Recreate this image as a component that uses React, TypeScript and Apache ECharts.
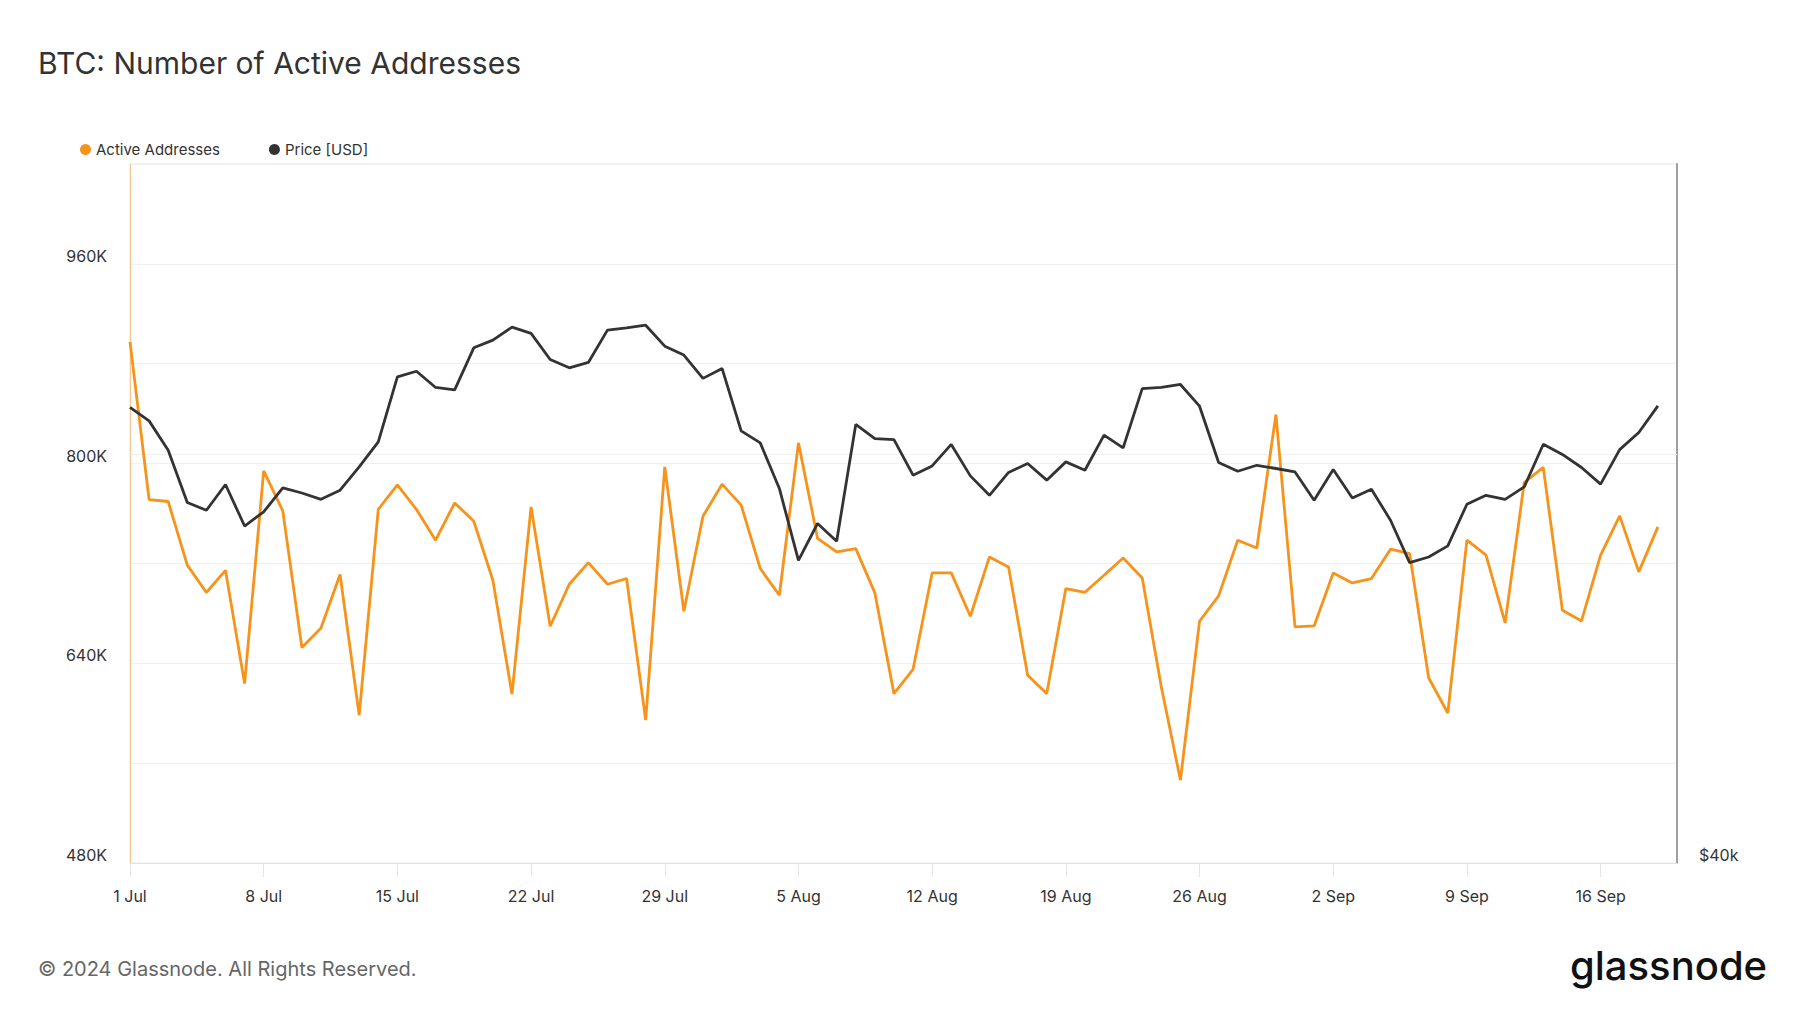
import React, { useEffect, useRef } from "react";
import * as echarts from "echarts";

const dates: string[] = [
  "1 Jul", "2 Jul", "3 Jul", "4 Jul", "5 Jul", "6 Jul", "7 Jul", "8 Jul", "9 Jul", "10 Jul",
  "11 Jul", "12 Jul", "13 Jul", "14 Jul", "15 Jul", "16 Jul", "17 Jul", "18 Jul", "19 Jul", "20 Jul",
  "21 Jul", "22 Jul", "23 Jul", "24 Jul", "25 Jul", "26 Jul", "27 Jul", "28 Jul", "29 Jul", "30 Jul",
  "31 Jul", "1 Aug", "2 Aug", "3 Aug", "4 Aug", "5 Aug", "6 Aug", "7 Aug", "8 Aug", "9 Aug",
  "10 Aug", "11 Aug", "12 Aug", "13 Aug", "14 Aug", "15 Aug", "16 Aug", "17 Aug", "18 Aug", "19 Aug",
  "20 Aug", "21 Aug", "22 Aug", "23 Aug", "24 Aug", "25 Aug", "26 Aug", "27 Aug", "28 Aug", "29 Aug",
  "30 Aug", "31 Aug", "1 Sep", "2 Sep", "3 Sep", "4 Sep", "5 Sep", "6 Sep", "7 Sep", "8 Sep",
  "9 Sep", "10 Sep", "11 Sep", "12 Sep", "13 Sep", "14 Sep", "15 Sep", "16 Sep", "17 Sep", "18 Sep",
  "19 Sep", "20 Sep",
];

const activeAddresses: number[] = [
  897500, 771200, 769600, 718600, 696700, 714500, 623700, 794100, 762100, 652600,
  668300, 711100, 598400, 763400, 782900, 763200, 738600, 768500, 753800, 706500,
  615300, 765300, 669700, 703300, 720700, 703300, 707900, 594500, 797400, 681700,
  757800, 783500, 766700, 715900, 694500, 816600, 740000, 729200, 731900, 696400,
  615700, 635200, 712400, 712400, 677700, 725200, 717200, 630400, 615700, 699900,
  696900, 710500, 724400, 708400, 621000, 546400, 673700, 694000, 738600, 732400,
  839300, 669100, 669900, 712400, 704400, 707900, 731400, 727900, 628200, 600200,
  738600, 726600, 672300, 784700, 796900, 682500, 673900, 726600, 758100, 713200,
  749300,
];

const priceUsd: number[] = [
  62850, 62010, 60230, 57190, 56750, 58220, 55870, 56660, 58020, 57730,
  57370, 57890, 59240, 60730, 64780, 65140, 64100, 63950, 66670, 67180,
  68050, 67630, 65900, 65360, 65710, 67850, 68000, 68180, 66780, 66190,
  64680, 65320, 61400, 60670, 57990, 54000, 56010, 55030, 61790, 60930,
  60870, 58760, 59300, 60580, 58720, 57600, 58920, 59440, 58470, 59540,
  59050, 61140, 60370, 64030, 64100, 64290, 62920, 59500, 58990, 59340,
  59150, 58950, 57320, 59090, 57450, 57950, 56190, 53880, 54180, 54780,
  57090, 57600, 57370, 58080, 60590, 59980, 59210, 58240, 60270, 61300,
  62940,
];

const leftTicks = { min: 480000, max: 1040000, step: 80000, labelStep: 160000 };
const rightTicks = { min: 40000, max: 80000, grid: [60000], label: "$40k" };

const TITLE = "BTC: Number of Active Addresses";
const FOOTER = "\u00a9 2024 Glassnode. All Rights Reserved.";
const FONT = "Inter, 'Noto Sans', sans-serif";

export default function App() {
  const ref = useRef<HTMLDivElement>(null);

  useEffect(() => {
    if (!ref.current) return;
    const chart = echarts.init(ref.current, undefined, { renderer: "svg" });
    const option: any = {
      animation: false,
      backgroundColor: "#ffffff",
      textStyle: { fontFamily: FONT },
      title: {
        text: TITLE,
        left: 38,
        top: 48,
        padding: 0,
        textStyle: { fontSize: 30, fontWeight: 400, color: "#333333", fontFamily: FONT },
      },
      legend: {
        left: 80,
        top: 142,
        padding: 0,
        icon: "circle",
        itemWidth: 11,
        itemHeight: 11,
        itemGap: 49,
        textStyle: { fontSize: 15, color: "#333333", fontFamily: FONT },
        data: [
          { name: "Active Addresses", itemStyle: { color: "#f7931a" } },
          { name: "Price [USD]", itemStyle: { color: "#333333" } },
        ],
      },
      grid: {
        left: 130,
        right: 123,
        top: 164,
        bottom: 150,
        show: true,
        borderColor: "#e6e6e6",
        borderWidth: 1,
        containLabel: false,
      },
      xAxis: {
        type: "category",
        boundaryGap: false,
        data: dates,
        axisLine: { show: true, lineStyle: { color: "#e3e3e3", width: 1 } },
        axisTick: {
          show: true,
          interval: (i: number) => i % 7 === 0,
          length: 14,
          lineStyle: { color: "#e6e6e6" },
        },
        axisLabel: {
          interval: (i: number) => i % 7 === 0,
          fontSize: 16,
          color: "#333333",
          margin: 25,
          fontFamily: FONT,
        },
        splitLine: { show: false },
      },
      yAxis: [
        {
          type: "value",
          position: "left",
          min: leftTicks.min,
          max: leftTicks.max,
          interval: leftTicks.step,
          axisLine: { show: true, lineStyle: { color: "rgba(247,147,26,0.45)", width: 1 } },
          axisTick: { show: false },
          axisLabel: {
            fontSize: 16,
            color: "#333333",
            margin: 23,
            verticalAlign: "bottom",
            fontFamily: FONT,
            formatter: (v: number) =>
              (v - leftTicks.min) % leftTicks.labelStep === 0 && v < leftTicks.max
                ? Math.round(v / 1000) + "K"
                : "",
          },
          splitLine: { show: true, lineStyle: { color: "#f0f0f0", width: 1 } },
        },
        {
          type: "log",
          logBase: 10,
          position: "right",
          min: rightTicks.min,
          max: rightTicks.max,
          axisLine: { show: true, lineStyle: { color: "#a0a0a0", width: 2 } },
          axisTick: { show: false },
          axisLabel: {
            fontSize: 16,
            color: "#333333",
            margin: 22,
            verticalAlign: "bottom",
            fontFamily: FONT,
            showMaxLabel: false,
            formatter: (v: number) => (v < rightTicks.min * 1.05 ? rightTicks.label : ""),
          },
          splitLine: { show: false },
        },
      ],
      series: [
        {
          name: "Active Addresses",
          type: "line",
          yAxisIndex: 0,
          data: activeAddresses,
          showSymbol: false,
          symbol: "none",
          lineStyle: { color: "#f7931a", width: 2.8 },
          itemStyle: { color: "#f7931a" },
          z: 3,
        },
        {
          name: "Price [USD]",
          type: "line",
          yAxisIndex: 1,
          data: priceUsd,
          showSymbol: false,
          symbol: "none",
          lineStyle: { color: "#333333", width: 2.8 },
          itemStyle: { color: "#333333" },
          z: 4,
          markLine: {
            silent: true,
            symbol: ["none", "none"],
            label: { show: false },
            lineStyle: { color: "#f0f0f0", type: "solid", width: 1 },
            z: 1,
            data: rightTicks.grid.map((g) => ({ yAxis: g })),
          },
        },
      ],
      graphic: [
        {
          type: "text",
          left: 38,
          top: 959,
          style: { text: FOOTER, fontSize: 20, fill: "#666666", fontFamily: FONT },
        },
        {
          type: "text",
          left: 1570,
          top: 945,
          style: {
            text: "glassnode",
            fontSize: 40,
            fontWeight: 500,
            fill: "#111111",
            fontFamily: FONT,
          },
        },
      ],
    };
    chart.setOption(option);
    return () => chart.dispose();
  }, []);

  return (
    <div
      ref={ref}
      style={{ position: "absolute", left: 0, top: 0, width: 1800, height: 1013, background: "#fff" }}
    />
  );
}
